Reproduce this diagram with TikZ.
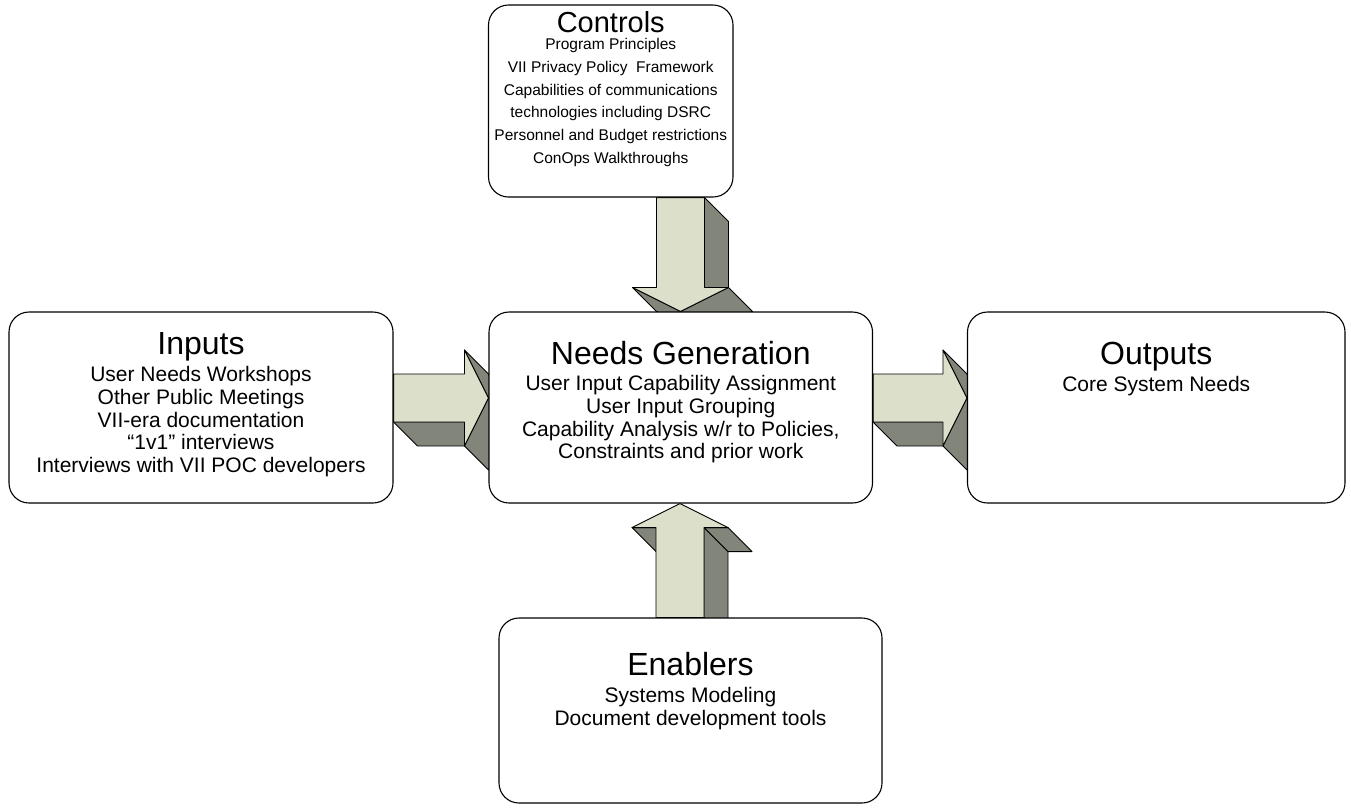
\documentclass[tikz,border=0pt]{standalone}
\usepackage{fontspec}
\setmainfont{Liberation Sans}
\usetikzlibrary{calc}
\definecolor{arrowface}{HTML}{DCE0CA}
\definecolor{arrowside}{HTML}{82857A}
\pgfdeclarelayer{arrows}
\pgfsetlayers{arrows,main}

% Extruded block arrows: front face plus the side faces seen with depth (24,24)
\newcommand*\blockdown[2]{%
  \fill[side] ($(#1)+(24,0)$) -- ($(#2)+(24,-24)$) -- ($(#2)+(48,0)$) -- ($(#1)+(48,24)$) -- cycle;
  \fill[side] ($(#2)+(-48,-24)$) -- (#2) -- ($(#2)+(24,24)$) -- ($(#2)+(-24,0)$) -- cycle;
  \fill[side] (#2) -- ($(#2)+(48,-24)$) -- ($(#2)+(72,0)$) -- ($(#2)+(24,24)$) -- cycle;
  \fill[front] ($(#1)+(-24,0)$) -- ($(#2)+(-24,-24)$) -- ($(#2)+(-48,-24)$) -- (#2)
    -- ($(#2)+(48,-24)$) -- ($(#2)+(24,-24)$) -- ($(#1)+(24,0)$) -- cycle;}
\newcommand*\blockright[2]{%
  \fill[side] ($(#1)+(0,24)$) -- ($(#2)+(-24,24)$) -- ($(#2)+(0,48)$) -- ($(#1)+(24,48)$) -- cycle;
  \fill[side] ($(#2)+(-24,-48)$) -- (#2) -- ($(#2)+(24,24)$) -- ($(#2)+(0,-24)$) -- cycle;
  \fill[side] (#2) -- ($(#2)+(-24,48)$) -- ($(#2)+(0,72)$) -- ($(#2)+(24,24)$) -- cycle;
  \fill[front] ($(#1)+(0,-24)$) -- ($(#2)+(-24,-24)$) -- ($(#2)+(-24,-48)$) -- (#2)
    -- ($(#2)+(-24,48)$) -- ($(#2)+(-24,24)$) -- ($(#1)+(0,24)$) -- cycle;}
\newcommand*\blockup[2]{%
  \fill[side] ($(#2)+(24,24)$) -- ($(#1)+(24,0)$) -- ($(#1)+(48,24)$) -- ($(#2)+(48,48)$) -- cycle;
  \fill[side] ($(#2)+(24,24)$) -- ($(#2)+(48,24)$) -- ($(#2)+(72,48)$) -- ($(#2)+(48,48)$) -- cycle;
  \fill[side] ($(#2)+(-48,24)$) -- ($(#2)+(-24,24)$) -- ($(#2)+(0,48)$) -- ($(#2)+(-24,48)$) -- cycle;
  \fill[front] ($(#1)+(-24,0)$) -- ($(#2)+(-24,24)$) -- ($(#2)+(-48,24)$) -- (#2)
    -- ($(#2)+(48,24)$) -- ($(#2)+(24,24)$) -- ($(#1)+(24,0)$) -- cycle;}

\begin{document}
\begin{tikzpicture}[x=1pt,y=-1pt,
  box/.style={draw=black, line width=1.1pt, fill=white, rounded corners=20pt, inner sep=0pt},
  front/.style={fill=arrowface, draw=black, line width=0.9pt, line join=round},
  side/.style={fill=arrowside, draw=black, line width=0.9pt, line join=round},
  txt/.style={anchor=base, inner sep=0pt},
  title/.style={txt, font=\fontsize{32}{34}\selectfont},
  body/.style={txt, font=\fontsize{21}{23}\selectfont},
  smalltitle/.style={txt, font=\fontsize{29}{31}\selectfont},
  smallbody/.style={txt, font=\fontsize{15.5}{18}\selectfont}]
\useasboundingbox (0,0) rectangle (1351,807);

% the five boxes
\node[box, minimum width=244.5, minimum height=192] (ctl) at (610.75,101) {};
\node[box, minimum width=384,   minimum height=191] (inp) at (201,407.5) {};
\node[box, minimum width=383.5, minimum height=191] (ned) at (680.75,407.5) {};
\node[box, minimum width=377.5, minimum height=191] (out) at (1156.25,407.5) {};
\node[box, minimum width=383,   minimum height=185] (enb) at (690.5,710.5) {};

% arrow axes
\coordinate (dax) at (680.5,0);
\coordinate (uax) at (680,0);
\coordinate (ray) at (0,398);

\begin{pgfonlayer}{arrows}
  \coordinate (d-s) at (ctl.south -| dax);
  \coordinate (d-t) at (ned.north -| dax);
  \blockdown{d-s}{d-t}
  \coordinate (r1-s) at (inp.east |- ray);
  \coordinate (r1-t) at (ned.west |- ray);
  \blockright{r1-s}{r1-t}
  \coordinate (r2-s) at (ned.east |- ray);
  \coordinate (r2-t) at (out.west |- ray);
  \blockright{r2-s}{r2-t}
  \coordinate (u-s) at (enb.north -| uax);
  \coordinate (u-t) at (ned.south -| uax);
  \blockup{u-s}{u-t}
\end{pgfonlayer}

% texts
\node[smalltitle] (ctl-t) at (610.75,32.4) {Controls};
\foreach \s [count=\i] in {Program Principles, VII Privacy Policy\ \ Framework,
    Capabilities of communications, technologies including DSRC,
    Personnel and Budget restrictions, ConOps Walkthroughs}
  \node[smallbody] (ctl-\i) at (610.75,{49.5+22.8*(\i-1)}) {\s};

\node[title] (inp-t) at (201,354.8) {Inputs};
\foreach \s [count=\i] in {User Needs Workshops, Other Public Meetings,
    VII-era documentation, “1v1” interviews, Interviews with VII POC developers}
  \node[body] (inp-\i) at (201,{381.5+22.8*(\i-1)}) {\s};

\node[title] (ned-t) at (680.75,364.5) {Needs Generation};
\foreach \s [count=\i] in {User Input Capability Assignment, User Input Grouping,
    {Capability Analysis w/r to Policies,}, Constraints and prior work}
  \node[body] (ned-\i) at (680.75,{390.5+22.8*(\i-1)}) {\s};

\node[title] (out-t) at (1156.25,364.5) {Outputs};
\node[body] (out-1) at (1156.25,391.5) {Core System Needs};

\node[title] (enb-t) at (690.5,675.5) {Enablers};
\foreach \s [count=\i] in {Systems Modeling, Document development tools}
  \node[body] (enb-\i) at (690.5,{702.5+22.8*(\i-1)}) {\s};
\end{tikzpicture}
\end{document}
